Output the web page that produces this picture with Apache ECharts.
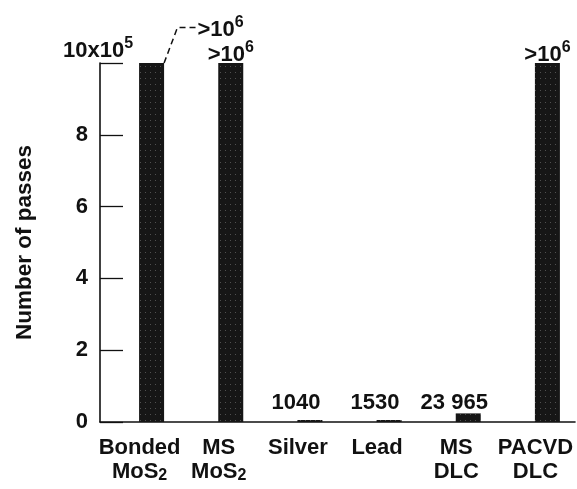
<!DOCTYPE html>
<html>
<head>
<meta charset="utf-8">
<script src="https://cdn.jsdelivr.net/npm/echarts@6/dist/echarts.min.js"></script>
<style>html,body{margin:0;padding:0;background:#fff;}#c{width:577px;height:489px;}</style>
</head>
<body>
<div id="c"></div>
<script>
// ---- data ----
const categories = ['Bonded\nMoS_2', 'MS\nMoS_2', 'Silver', 'Lead', 'MS\nDLC', 'PACVD\nDLC'];
const values = [1000000, 1000000, 1040, 1530, 23965, 1000000];
const valueLabels = ['>10^6', '>10^6', '1040', '1530', '23 965', '>10^6'];
const yTicks = [0, 200000, 400000, 600000, 800000, 1000000];
const yTickLabels = ['0', '2', '4', '6', '8', '10x10^5'];
const yMax = 1000000;

const FONT = 'Liberation Sans';
const INK = '#111';
const FS = 22;
const SFS = 16;

function txt(size, extra) {
  return Object.assign({ fontFamily: FONT, fontWeight: 'bold', fontSize: size, color: INK }, extra || {});
}
function supText(s) {
  const i = s.indexOf('^');
  if (i < 0) return '{n|' + s + '}';
  return '{n|' + s.slice(0, i) + '}{sup|' + s.slice(i + 1) + '}';
}
function subText(s) {
  return s.split('\n').map(line => {
    const i = line.indexOf('_');
    if (i < 0) return '{a|' + line + '}';
    return '{a|' + line.slice(0, i) + '}{sub|' + line.slice(i + 1) + '}';
  }).join('\n');
}
const supRich = {
  n: txt(FS, { lineHeight: 30 }),
  sup: txt(SFS, { verticalAlign: 'top' })
};

const barData = values.map((v, i) => {
  const big = v >= yMax;
  const item = { value: v };
  if (big) {
    item.label = { position: 'top', distance: -6.5 };
  } else {
    item.label = { position: 'insideBottom', distance: 4 };
  }
  if (i === 0) {
    item.labelLine = { show: true, length2: 20, lineStyle: { type: [6, 4], color: INK, width: 1.5 } };
  }
  return item;
});

const chart = echarts.init(document.getElementById('c'), null, { renderer: 'canvas' });
chart.setOption({
  backgroundColor: '#fff',
  animation: false,
  grid: { left: 100, right: 2, top: 63, bottom: 67 },
  xAxis: {
    type: 'category',
    data: categories,
    boundaryGap: true,
    axisLine: { lineStyle: { color: INK, width: 1.6 } },
    axisTick: { inside: true, length: 22, lineStyle: { color: INK, width: 1.3 } },
    axisLabel: {
      interval: 0,
      margin: 14,
      formatter: v => subText(v),
      rich: {
        a: txt(FS, { lineHeight: 24 }),
        sub: txt(SFS, { lineHeight: 14, verticalAlign: 'bottom' })
      }
    }
  },
  yAxis: [{
    type: 'value',
    min: 0, max: yMax, interval: 200000,
    name: 'Number of passes',
    nameLocation: 'middle',
    nameGap: 64,
    nameRotate: 90,
    nameTextStyle: txt(22.5),
    axisLine: { show: true, lineStyle: { color: INK, width: 1.6 } },
    axisTick: { show: true, inside: true, length: 23, lineStyle: { color: INK, width: 1.3 } },
    splitLine: { show: false },
    axisLabel: Object.assign({
      margin: 12,
      formatter: v => { const k = yTicks.indexOf(v); return (k < 0 || v >= yMax) ? '' : yTickLabels[k]; }
    }, txt(FS))
  }, {
    type: 'value',
    position: 'left',
    min: 0, max: yMax, interval: 200000,
    axisLine: { show: false },
    axisTick: { show: false },
    splitLine: { show: false },
    axisLabel: {
      margin: 37,
      align: 'left',
      verticalAlign: 'bottom',
      padding: [0, 0, -3, 0],
      showMaxLabel: true,
      formatter: v => { const k = yTicks.indexOf(v); return (k >= 0 && v >= yMax) ? supText(yTickLabels[k]) : ''; },
      rich: supRich
    }
  }],
  series: [{
    type: 'bar',
    data: values.map(() => '-'),
    barWidth: 25,
    barGap: '-4%',
    silent: true
  }, {
    type: 'bar',
    data: barData,
    barWidth: 25,
    barGap: '-4%',
    barMinHeight: 2,
    itemStyle: {
      color: '#161616',
      decal: { symbol: 'rect', symbolSize: 1, color: 'rgba(150,150,150,0.45)', dashArrayX: [1, 4], dashArrayY: [1, 5], rotation: 0 }
    },
    label: {
      show: true,
      color: INK,
      formatter: p => supText(valueLabels[p.dataIndex]),
      rich: supRich
    },
    labelLayout: p => {
      if (p.dataIndex === 0) return { dx: 69, dy: -25 };
      if (values[p.dataIndex] < yMax) return { dx: -14 };
      return {};
    },
    labelLine: { show: false }
  }]
});
</script>
</body>
</html>
